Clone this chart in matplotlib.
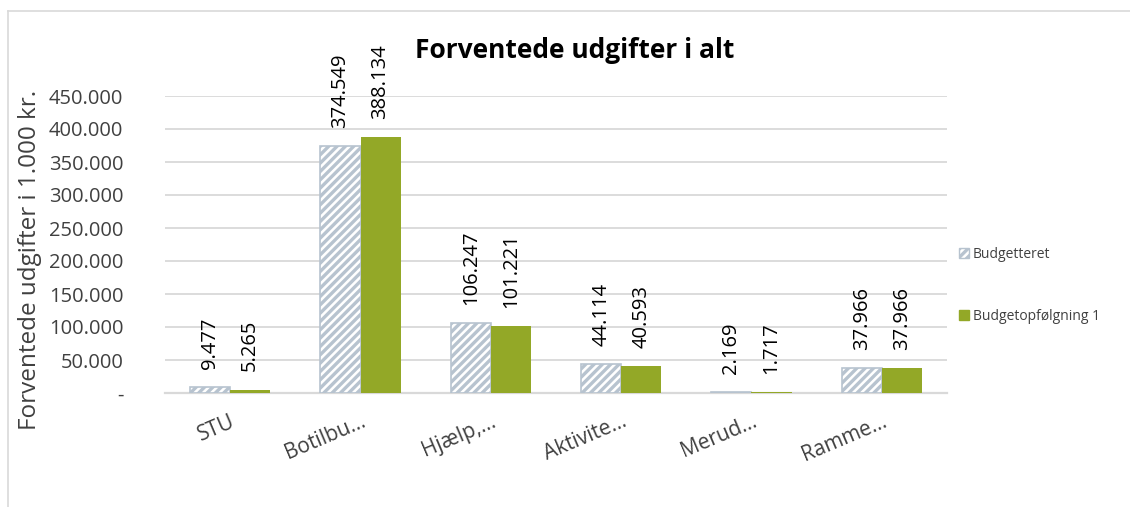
import matplotlib
matplotlib.use("Agg")
import matplotlib.pyplot as plt
import numpy as np
from matplotlib.ticker import FuncFormatter
from matplotlib.patches import Patch
from matplotlib.lines import Line2D

categories = ["STU", "Botilbu...", "Hjælp,...", "Aktivite...", "Merud...", "Ramme..."]
budgetteret = [9477, 374549, 106247, 44114, 2169, 37966]
budgetopfoelgning = [5265, 388134, 101221, 40593, 1717, 37966]
series_names = ["Budgetteret", "Budgetopfølgning 1"]
y_ticks = [0, 50000, 100000, 150000, 200000, 250000, 300000, 350000, 400000, 450000]

plt.rcParams['font.family'] = ['Open Sans', 'DejaVu Sans']
plt.rcParams['hatch.color'] = '#b7c3cf'
plt.rcParams['hatch.linewidth'] = 2.4

grey_blue = '#b7c3cf'
green = '#93a827'
text_col = '#404040'
grid_col = '#d9d9d9'


def dk(v):
    if v == 0:
        return "-"
    return f"{v:,.0f}".replace(",", ".")


fig = plt.figure(figsize=(11.3, 5.07), dpi=100)
ax = fig.add_axes([165 / 1130, 1 - 393 / 507, 782 / 1130, 297 / 507])

x = np.arange(len(categories))
w = 0.307
b1 = ax.bar(x - w / 2, budgetteret, w, color='white', edgecolor=grey_blue,
            hatch='////', linewidth=1.2, zorder=3)
b2 = ax.bar(x + w / 2, budgetopfoelgning, w, color=green, linewidth=0, zorder=3)

for bars, vals in ((b1, budgetteret), (b2, budgetopfoelgning)):
    for rect, v in zip(bars, vals):
        ax.annotate(dk(v), (rect.get_x() + rect.get_width() / 2, rect.get_height()),
                    xytext=(0, 13), textcoords='offset points', rotation=90,
                    ha='center', va='bottom', fontsize=14.5, color='black')

ax.set_xlim(-0.5, 5.5)
ax.set_ylim(0, 450000)
ax.set_yticks(y_ticks)
ax.yaxis.set_major_formatter(FuncFormatter(lambda v, p: dk(v)))
ax.grid(axis='y', color=grid_col, linewidth=1.3, zorder=0)
for s in ('top', 'right', 'left'):
    ax.spines[s].set_visible(False)
ax.spines['bottom'].set_color(grid_col)
ax.spines['bottom'].set_linewidth(1.6)
ax.tick_params(axis='y', length=0, labelsize=14.5, labelcolor=text_col, pad=30)
ax.tick_params(axis='x', length=0, labelsize=15, labelcolor=text_col, pad=13)
ax.set_xticks(x)
ax.set_xticklabels(categories, rotation=23, ha='right', rotation_mode='anchor')

fig.text(30 / 1130, 1 - 260 / 507, "Forventede udgifter i 1.000 kr.", rotation=90,
         ha='center', va='center', fontsize=17.5, color=text_col)
fig.text(575 / 1130, 1 - 51 / 507, "Forventede udgifter i alt", ha='center',
         va='center', fontsize=19, fontweight='bold', color='black')

handles = [Patch(facecolor='white', edgecolor=grey_blue, hatch='////', linewidth=1),
           Patch(facecolor=green, edgecolor=green)]
fig.legend(handles, series_names, loc='upper left', bbox_to_anchor=(952 / 1130, 1 - 240 / 507),
           frameon=False, fontsize=10, handlelength=0.75, handleheight=0.75,
           handletextpad=0.25, labelspacing=3.4, borderpad=0, labelcolor=text_col)

# outer chart border
fig.add_artist(Line2D([8 / 1130, 1], [1 - 11 / 507, 1 - 11 / 507], transform=fig.transFigure,
                      color=grid_col, linewidth=1.2))
fig.add_artist(Line2D([8 / 1130, 8 / 1130], [0, 1 - 11 / 507], transform=fig.transFigure,
                      color=grid_col, linewidth=1.2))

fig.savefig("out.png", dpi=100)
